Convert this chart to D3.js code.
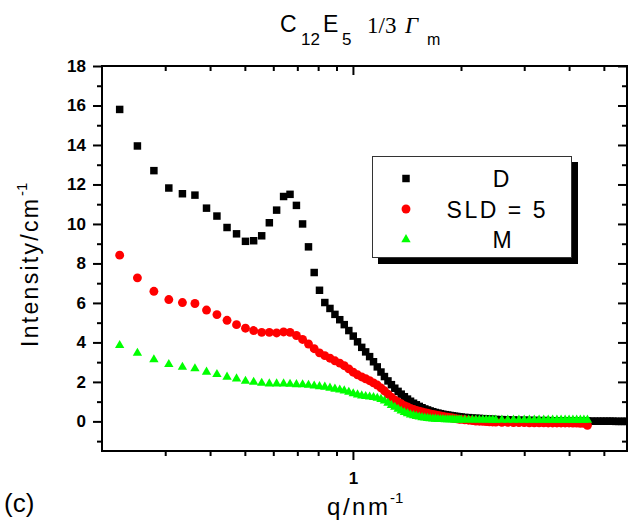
<!DOCTYPE html>
<html>
<head>
<meta charset="utf-8">
<script src="https://cdn.jsdelivr.net/npm/d3@7"></script>
<style>
  html, body { margin: 0; padding: 0; background: #fff; }
  svg { display: block; font-family: "Liberation Sans", Arial, sans-serif; }
</style>
</head>
<body>
<svg id="chart" width="628" height="524"></svg>
<script>
// ---------- data ----------
const qNm = [0.224,0.251,0.279,0.307,0.335,0.363,0.391,0.418,0.446,0.474,
  0.502,0.529,0.557,0.585,0.613,0.641,0.668,0.696,0.724,0.752,
  0.780,0.807,0.835,0.863,0.891,0.919,0.946,0.974,1.002,1.030,
  1.058,1.085,1.113,1.141,1.169,1.197,1.224,1.252,1.280,1.308,
  1.336,1.363,1.391,1.419,1.447,1.475,1.502,1.530,1.558,1.586,
  1.614,1.641,1.669,1.697,1.725,1.753,1.780,1.808,1.836,1.864,
  1.892,1.919,1.947,1.975,2.003,
  2.05,2.10,2.15,2.20,2.25,2.30,2.35,2.40,2.45,2.50,
  2.6,2.7,2.8,2.9,3.0,3.1,3.2,3.3,3.4,3.5,
  3.6,3.7,3.8,3.9,4.0,4.1,4.2,4.3,4.4,4.5,
  4.6,4.7,4.8,4.9,5.0,5.1,5.2,5.3,5.4,5.5,5.6,5.7,5.8,5.9];

const seriesD = [15.8,13.95,12.7,11.82,11.53,11.46,10.8,10.4,9.82,9.5,
  9.12,9.15,9.4,10.06,10.7,11.39,11.5,10.94,10.0,8.84,
  7.54,6.64,6.02,5.72,5.42,5.15,4.9,4.6,4.32,4.03,
  3.75,3.52,3.28,3.02,2.76,2.5,2.27,2.05,1.86,1.68,
  1.52,1.38,1.25,1.13,1.02,0.92,0.84,0.76,0.69,0.63,
  0.58,0.53,0.49,0.45,0.42,0.39,0.36,0.34,0.32,0.30,
  0.28,0.26,0.25,0.23,0.22,
  0.20,0.19,0.17,0.16,0.15,0.14,0.13,0.12,0.11,0.10,
  0.09,0.08,0.07,0.06,0.06,0.05,0.05,0.04,0.04,0.04,
  0.03,0.03,0.03,0.03,0.02,0.02,0.02,0.02,0.02,0.02,
  0.01,0.01,0.01,0.01,0.01,0.01,0.01,0.01,0.0,0.0,0.0,0.0,0.0,0.0];

const seriesSLD5 = [8.42,7.27,6.59,6.17,6.02,5.97,5.64,5.41,5.12,4.9,
  4.72,4.6,4.51,4.51,4.48,4.53,4.51,4.35,4.15,3.92,
  3.68,3.47,3.33,3.2,3.07,2.95,2.82,2.66,2.49,2.36,
  2.25,2.16,2.06,1.95,1.84,1.7,1.55,1.38,1.22,1.08,
  0.98,0.89,0.8,0.73,0.66,0.61,0.56,0.52,0.48,0.44,
  0.41,0.38,0.35,0.32,0.3,0.27,0.25,0.23,0.21,0.19,
  0.17,0.15,0.13,0.11,0.1,
  0.08,0.06,0.04,0.02,0.01,0.0,-0.01,-0.02,-0.03,-0.04,
  -0.05,-0.05,-0.06,-0.06,-0.06,-0.07,-0.07,-0.07,-0.07,-0.08,
  -0.08,-0.08,-0.08,-0.08,-0.08,-0.09,-0.09,-0.1,-0.1,-0.2];

const seriesM = [3.85,3.46,3.13,2.89,2.75,2.67,2.5,2.38,2.25,2.16,
  2.04,1.99,1.94,1.91,1.91,1.91,1.89,1.87,1.86,1.84,
  1.8,1.77,1.74,1.69,1.64,1.6,1.55,1.48,1.41,1.35,
  1.3,1.27,1.24,1.22,1.18,1.12,1.04,0.93,0.82,0.72,
  0.62,0.53,0.46,0.4,0.34,0.3,0.26,0.23,0.2,0.18,
  0.16,0.14,0.13,0.12,0.11,0.1,0.1,0.09,0.09,0.09,
  0.09,0.08,0.08,0.08,0.08,
  0.08,0.08,0.08,0.08,0.08,0.08,0.08,0.08,0.07,0.07,
  0.07,0.07,0.07,0.07,0.07,0.07,0.07,0.07,0.07,0.07,
  0.07,0.07,0.07,0.07,0.07,0.07,0.07,0.07,0.07,0.07];

const legendLabels = ["D", "SLD = 5", "M"];
const yMajorTicks = [0,2,4,6,8,10,12,14,16,18];
const yMinorTicks = [-1,1,3,5,7,9,11,13,15,17];
const xMajorTicks = [1];
const xMinorTicks = [0.3,0.4,0.5,0.6,0.7,0.8,0.9,2,3,4,5];

// ---------- layout ----------
const SANS = "'Liberation Sans', Arial, sans-serif";
const SERIF = "'Liberation Serif', 'Times New Roman', serif";
const svg = d3.select("#chart");
const L = 102, R = 627, T = 66, B = 451;
const x = d3.scaleLog().domain([0.2, 5.8]).range([L, R]);
const y = d3.scaleLinear().domain([-1.5, 18]).range([B, T]);

svg.append("defs").append("clipPath").attr("id", "plotClip")
  .append("rect").attr("x", L).attr("y", T).attr("width", R - L).attr("height", B - T);

// ---------- data marks ----------
const plot = svg.append("g").attr("clip-path", "url(#plotClip)");
const series = [
  {vals: seriesD, sym: d3.symbolSquare, size: 56, color: "#000000"},
  {vals: seriesSLD5, sym: d3.symbolCircle, size: 62, color: "#ff0000"},
  {vals: seriesM, sym: d3.symbolTriangle, size: 38, color: "#00ff00"}
];
series.forEach(s => {
  const pts = s.vals.map((v, i) => ({q: qNm[i], v}));
  plot.append("g").selectAll("path").data(pts).join("path")
    .attr("d", d3.symbol().type(s.sym).size(s.size))
    .attr("transform", d => `translate(${x(d.q)},${y(d.v)})`)
    .attr("fill", s.color);
});

// ---------- axes ----------
const fmtNone = () => "";
function styleAxis(g) {
  g.attr("font-family", null).attr("font-size", null);
  g.select(".domain").remove();
  g.selectAll("line").attr("stroke", "#000").attr("stroke-width", 2);
  g.selectAll("text").style("font-family", SANS)
    .style("font-weight", "bold").style("font-size", "17px").attr("fill", "#000");
}
// left
svg.append("g").attr("transform", `translate(${L},0)`)
  .call(d3.axisLeft(y).tickValues(yMajorTicks).tickSize(9).tickPadding(7).tickFormat(d3.format("d")))
  .call(styleAxis);
svg.append("g").attr("transform", `translate(${L},0)`)
  .call(d3.axisLeft(y).tickValues(yMinorTicks).tickSize(5).tickFormat(fmtNone))
  .call(styleAxis);
// right (ticks pointing inward)
svg.append("g").attr("transform", `translate(${R},0)`)
  .call(d3.axisLeft(y).tickValues(yMajorTicks).tickSize(9).tickFormat(fmtNone))
  .call(styleAxis);
svg.append("g").attr("transform", `translate(${R},0)`)
  .call(d3.axisLeft(y).tickValues(yMinorTicks).tickSize(5).tickFormat(fmtNone))
  .call(styleAxis);
// bottom
svg.append("g").attr("transform", `translate(0,${B})`)
  .call(d3.axisBottom(x).tickValues(xMajorTicks).tickSize(9).tickPadding(12).tickFormat(d3.format("d")))
  .call(styleAxis);
svg.append("g").attr("transform", `translate(0,${B})`)
  .call(d3.axisBottom(x).tickValues(xMinorTicks).tickSize(5).tickFormat(fmtNone))
  .call(styleAxis);
// top (ticks pointing inward)
svg.append("g").attr("transform", `translate(0,${T})`)
  .call(d3.axisBottom(x).tickValues(xMajorTicks).tickSize(9).tickFormat(fmtNone))
  .call(styleAxis);
svg.append("g").attr("transform", `translate(0,${T})`)
  .call(d3.axisBottom(x).tickValues(xMinorTicks).tickSize(5).tickFormat(fmtNone))
  .call(styleAxis);

// frame
svg.append("rect").attr("x", L).attr("y", T).attr("width", R - L).attr("height", B - T)
  .attr("fill", "none").attr("stroke", "#000").attr("stroke-width", 2);

// ---------- legend ----------
const lg = svg.append("g");
lg.append("rect").attr("x", 378).attr("y", 162).attr("width", 200).attr("height", 102).attr("fill", "#000");
lg.append("rect").attr("x", 372.5).attr("y", 156.5).attr("width", 199).attr("height", 101)
  .attr("fill", "#fff").attr("stroke", "#333").attr("stroke-width", 1);
const legY = [178.5, 209, 239.5];
const legX = [501, 496, 502];
const legLen = [null, 99, null];
series.forEach((s, i) => {
  lg.append("path").attr("d", d3.symbol().type(s.sym).size(s.size)())
    .attr("transform", `translate(406,${legY[i]})`).attr("fill", s.color);
  const t = lg.append("text").attr("x", legX[i]).attr("y", legY[i] + 8.5)
    .attr("text-anchor", "middle").style("font-size", "23px").style("font-family", SANS).attr("fill", "#000")
    .text(legendLabels[i]);
  if (legLen[i]) t.attr("textLength", legLen[i]).attr("lengthAdjust", "spacing");
});

// ---------- title ----------
const tt = svg.append("g").attr("fill", "#000");
function ttext(xp, yp, size, family, str, italic) {
  const t = tt.append("text").attr("x", xp).attr("y", yp)
    .style("font-size", size + "px").style("font-family", family).text(str);
  if (italic) t.style("font-style", "italic");
  return t;
}
ttext(280, 32, 23, SANS, "C");
ttext(301, 45, 17, SANS, "12");
ttext(323, 32, 23, SANS, "E");
ttext(342, 45, 17, SANS, "5");
ttext(367, 33, 23, SERIF, "1/3");
ttext(405, 33, 23, SERIF, "Γ", true);
ttext(427, 45, 16, SANS, "m");

// ---------- axis titles ----------
svg.append("text").attr("transform", "translate(38,347) rotate(-90)")
  .style("font-size", "23px").attr("textLength", 148).attr("lengthAdjust", "spacing").text("Intensity/cm");
svg.append("text").attr("transform", "translate(27,196) rotate(-90)")
  .style("font-size", "15px").text("-1");

svg.append("text").attr("x", 327).attr("y", 515).style("font-size", "24px")
  .attr("textLength", 61).attr("lengthAdjust", "spacing").text("q/nm");
svg.append("text").attr("x", 390).attr("y", 503).style("font-size", "15px").text("-1");

svg.append("text").attr("x", 4).attr("y", 512).style("font-size", "26px").text("(c)");
</script>
</body>
</html>
